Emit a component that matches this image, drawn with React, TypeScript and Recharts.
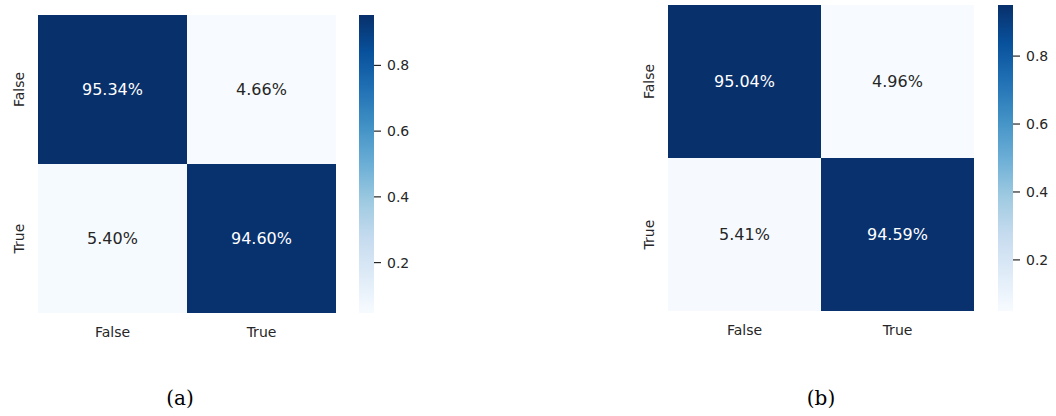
import React from "react"
import { Bar, BarChart, XAxis, YAxis } from "recharts"

// class labels (rows = actual, columns = predicted)
const classLabels = ["False", "True"]

// panel (a) confusion matrix, row by row
const matrixAFalseRow = [0.9534, 0.0466]
const matrixATrueRow = [0.054, 0.946]

// panel (b) confusion matrix, row by row
const matrixBFalseRow = [0.9504, 0.0496]
const matrixBTrueRow = [0.0541, 0.9459]

const colorbarTicks = [0.2, 0.4, 0.6, 0.8]
const captions = ["(a)", "(b)"]

// matplotlib "Blues"
const bluesStops = [
  "#f7fbff",
  "#deebf7",
  "#c6dbef",
  "#9ecae1",
  "#6baed6",
  "#4292c6",
  "#2171b5",
  "#08519c",
  "#08306b",
]

const TEXT = "#262626"
const FONT = "'DejaVu Sans', sans-serif"

function hexToRgb(h: string) {
  const n = parseInt(h.slice(1), 16)
  return [(n >> 16) & 255, (n >> 8) & 255, n & 255]
}

function bluesAt(t: number) {
  const c = Math.max(0, Math.min(1, t)) * (bluesStops.length - 1)
  const i = Math.min(Math.floor(c), bluesStops.length - 2)
  const f = c - i
  const a = hexToRgb(bluesStops[i])
  const b = hexToRgb(bluesStops[i + 1])
  const rgb = a.map((v, k) => Math.round(v + (b[k] - v) * f))
  return { fill: `rgb(${rgb.join(",")})`, lum: (0.299 * rgb[0] + 0.587 * rgb[1] + 0.114 * rgb[2]) / 255 }
}

const pct = (v: number) => `${(v * 100).toFixed(2)}%`

function makeCellShape(valueKey: string, vmin: number, vmax: number) {
  return (props: any) => {
    const { x, y, width, height, payload } = props
    const v = payload[valueKey]
    const c = bluesAt((v - vmin) / (vmax - vmin))
    return (
      <g>
        <rect x={x} y={y} width={width} height={height} fill={c.fill} />
        <text
          x={x + width / 2}
          y={y + height / 2}
          textAnchor="middle"
          dominantBaseline="central"
          fontSize={16}
          fill={c.lum > 0.5 ? TEXT : "#ffffff"}
        >
          {pct(v)}
        </text>
      </g>
    )
  }
}

function RowTick(props: any) {
  const { x, y, payload } = props
  const label = classLabels[classLabels.length - 1 - Math.floor(payload.value)]
  const bx = x - 14
  return (
    <text
      x={bx}
      y={y}
      transform={`rotate(-90, ${bx}, ${y})`}
      textAnchor="middle"
      fontSize={14}
      fill={TEXT}
    >
      {label}
    </text>
  )
}

type PanelProps = {
  id: string
  falseRow: number[]
  trueRow: number[]
  caption: string
  left: number
  top: number
  size: number
  cbLeft: number
  captionX: number
}

function Panel({ id, falseRow, trueRow, caption, left, top, size, cbLeft, captionX }: PanelProps) {
  const all = [...falseRow, ...trueRow]
  const vmin = Math.min(...all)
  const vmax = Math.max(...all)
  const data = classLabels.map((c, i) => ({
    predicted: c,
    topSize: 1,
    bottomSize: 1,
    topVal: falseRow[i],
    bottomVal: trueRow[i],
  }))
  const cbData = [{ k: "cb", span: [vmin, vmax] }]
  const yAxisW = 38
  const xAxisH = 32
  return (
    <>
      <div style={{ position: "absolute", left: left - yAxisW, top: 0 }}>
        <BarChart
          width={size + yAxisW + 4}
          height={top + size + xAxisH}
          data={data}
          margin={{ top, right: 4, bottom: 0, left: 0 }}
          barCategoryGap={0}
          barGap={0}
        >
          <XAxis
            dataKey="predicted"
            height={xAxisH}
            axisLine={false}
            tickLine={false}
            tickSize={0}
            tickMargin={14}
            tick={{ fontSize: 14, fill: TEXT }}
          />
          <YAxis
            type="number"
            domain={[0, 2]}
            ticks={[0.5, 1.5]}
            width={yAxisW}
            axisLine={false}
            tickLine={false}
            tickSize={0}
            tickMargin={0}
            tick={<RowTick />}
          />
          <Bar
            dataKey="bottomSize"
            stackId="cm"
            isAnimationActive={false}
            shape={makeCellShape("bottomVal", vmin, vmax)}
          />
          <Bar
            dataKey="topSize"
            stackId="cm"
            isAnimationActive={false}
            shape={makeCellShape("topVal", vmin, vmax)}
          />
        </BarChart>
      </div>
      <div style={{ position: "absolute", left: cbLeft, top: 0 }}>
        <BarChart
          width={60}
          height={top + size + 7}
          data={cbData}
          margin={{ top, right: 0, bottom: 7, left: 0 }}
          barCategoryGap={0}
        >
          <defs>
            <linearGradient id={`cb-${id}`} x1="0" y1="0" x2="0" y2="1">
              {bluesStops.map((c, i) => (
                <stop key={c} offset={`${(i / (bluesStops.length - 1)) * 100}%`} stopColor={bluesStops[bluesStops.length - 1 - i]} />
              ))}
            </linearGradient>
          </defs>
          <XAxis dataKey="k" hide />
          <YAxis
            orientation="right"
            type="number"
            domain={[vmin, vmax]}
            allowDataOverflow
            ticks={colorbarTicks}
            width={45}
            axisLine={false}
            tickLine={{ stroke: TEXT, strokeWidth: 1.2 }}
            tickSize={7}
            tickMargin={6}
            tick={{ fontSize: 14, fill: TEXT }}
          />
          <Bar dataKey="span" fill={`url(#cb-${id})`} isAnimationActive={false} />
        </BarChart>
      </div>
      <div
        style={{
          position: "absolute",
          left: captionX - 40,
          width: 80,
          top: 386,
          textAlign: "center",
          fontFamily: "'DejaVu Serif', serif",
          fontSize: 20,
          color: "#000",
        }}
      >
        {caption}
      </div>
    </>
  )
}

export default function App() {
  return (
    <div
      style={{
        position: "absolute",
        left: 0,
        top: 0,
        width: 1056,
        height: 416,
        background: "#fff",
        fontFamily: FONT,
        overflow: "hidden",
      }}
    >
      <Panel
        id="a"
        falseRow={matrixAFalseRow}
        trueRow={matrixATrueRow}
        caption={captions[0]}
        left={38}
        top={15}
        size={298}
        cbLeft={359}
        captionX={180}
      />
      <Panel
        id="b"
        falseRow={matrixBFalseRow}
        trueRow={matrixBTrueRow}
        caption={captions[1]}
        left={668}
        top={5}
        size={306}
        cbLeft={998}
        captionX={821}
      />
    </div>
  )
}
